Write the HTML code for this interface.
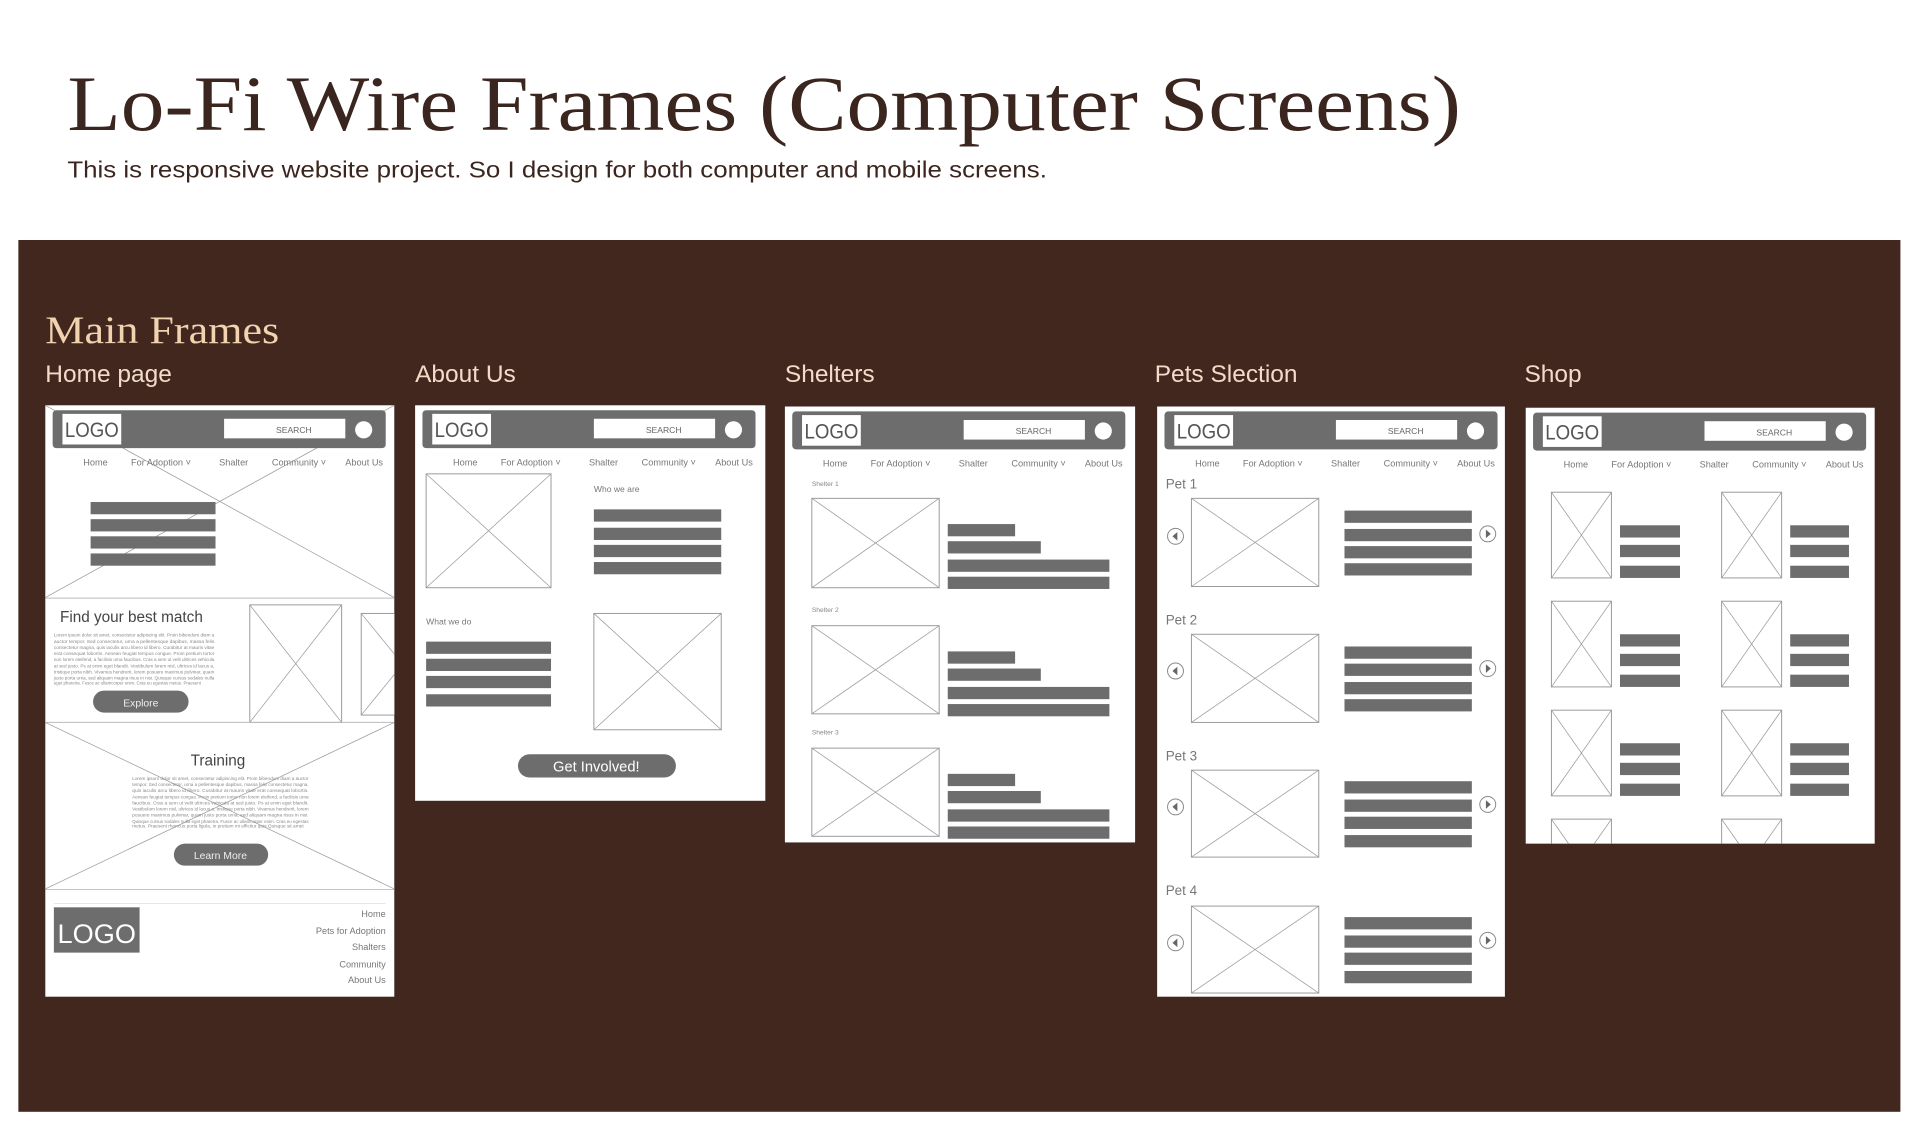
<!DOCTYPE html>
<html><head><meta charset="utf-8"><style>
html,body{margin:0;padding:0;background:#fff;}
svg{display:block;}
.s{font-family:"Liberation Sans",sans-serif;}
.nav{font-family:"Liberation Sans",sans-serif;font-size:7.5px;fill:#777;}
.bar{fill:#6d6d6d;}
.img{fill:#fff;stroke:#999;stroke-width:0.8;}
.x{stroke:#999;stroke-width:0.6;}
.lorem{font-family:"Liberation Sans",sans-serif;font-size:3.6px;fill:#888;}
</style></head><body>
<svg width="1920" height="1144" viewBox="0 0 1568 934.3" preserveAspectRatio="none" xmlns="http://www.w3.org/2000/svg">
<defs>
<clipPath id="hc"><rect x="37" y="331" width="285" height="483"/></clipPath>
<g id="hdr">
<rect x="6" y="4" width="272" height="31" rx="3" fill="#6d6d6d"/>
<rect x="14" y="7" width="48" height="25" fill="#fff"/>
<text x="16" y="26" class="s" font-size="17" fill="#555" textLength="44" lengthAdjust="spacingAndGlyphs">LOGO</text>
<rect x="146" y="11" width="99" height="16" fill="#fff"/>
<text x="203" y="22.5" class="s" font-size="7" text-anchor="middle" fill="#666">SEARCH</text>
<circle cx="260" cy="20" r="7" fill="#fff"/>
<text x="31" y="49" class="nav">Home</text>
<text x="70" y="49" class="nav">For Adoption ˅</text>
<text x="142" y="49" class="nav">Shalter</text>
<text x="185" y="49" class="nav">Community ˅</text>
<text x="245" y="49" class="nav">About Us</text>
</g>
</defs>

<rect width="1568" height="934.3" fill="#fff"/>
<text x="55" y="106" font-family="Liberation Serif,serif" font-size="64" fill="#3b251f" textLength="1138" lengthAdjust="spacingAndGlyphs">Lo-Fi Wire Frames (Computer Screens)</text>
<text x="55" y="145" class="s" font-size="19" fill="#3b251f" textLength="800" lengthAdjust="spacingAndGlyphs">This is responsive website project. So I design for both computer and mobile screens.</text>

<rect x="15" y="196" width="1537" height="712" fill="#42271f"/>
<text x="37" y="280" font-family="Liberation Serif,serif" font-size="32" fill="#f2d3b0" textLength="191" lengthAdjust="spacingAndGlyphs">Main Frames</text>
<g class="s" font-size="20" fill="#f2dcc8">
<text x="37" y="312">Home page</text>
<text x="339" y="312">About Us</text>
<text x="641" y="312">Shelters</text>
<text x="943" y="312">Pets Slection</text>
<text x="1245" y="312">Shop</text>
</g>

<!-- HOME -->
<rect x="37" y="331" width="285" height="483" fill="#fff"/>
<line x1="37" y1="331" x2="322" y2="488" class="x"/><line x1="322" y1="331" x2="37" y2="488" class="x"/>
<use href="#hdr" x="37" y="331"/>
<rect x="74" y="410" width="102" height="10" class="bar"/>
<rect x="74" y="424" width="102" height="10" class="bar"/>
<rect x="74" y="438" width="102" height="10" class="bar"/>
<rect x="74" y="452" width="102" height="10" class="bar"/>
<line x1="37" y1="488.5" x2="322" y2="488.5" stroke="#bbb" stroke-width="0.8"/>
<text x="49" y="508" class="s" font-size="12.5" fill="#444">Find your best match</text>
<g class="lorem">
<text x="44" y="520" textLength="131" lengthAdjust="spacingAndGlyphs">Lorem ipsum dolor sit amet, consectetur adipiscing elit. Proin bibendum diam a</text>
<text x="44" y="525" textLength="131" lengthAdjust="spacingAndGlyphs">auctor tempor. Sed consectetur, urna a pellentesque dapibus, massa felis</text>
<text x="44" y="530" textLength="131" lengthAdjust="spacingAndGlyphs">consectetur magna, quis iaculis arcu libero id libero. Curabitur at mauris vitae</text>
<text x="44" y="535" textLength="131" lengthAdjust="spacingAndGlyphs">erat consequat lobortis. Aenean feugiat tempus congue. Proin pretium tortor</text>
<text x="44" y="540" textLength="131" lengthAdjust="spacingAndGlyphs">non lorem eleifend, a facilisis urna faucibus. Cras a sem ut velit ultrices vehicula</text>
<text x="44" y="545" textLength="131" lengthAdjust="spacingAndGlyphs">at sed justo. Ps at enim eget blandit. Vestibulum lorem nisl, ultrices id lacus a,</text>
<text x="44" y="550" textLength="131" lengthAdjust="spacingAndGlyphs">tristique porta nibh. Vivamus hendrerit, lorem posuere maximus pulvinar, quam</text>
<text x="44" y="555" textLength="131" lengthAdjust="spacingAndGlyphs">justo porta urna, sed aliquam magna risus in nisi. Quisque cursus sodales nulla</text>
<text x="44" y="559" textLength="120" lengthAdjust="spacingAndGlyphs">eget pharetra. Fusce ac ullamcorper enim. Cras eu egestas metus. Praesent</text>
</g>
<rect x="76" y="564" width="78" height="18" rx="9" class="bar"/>
<text x="115" y="577" class="s" font-size="8.5" fill="#eee" text-anchor="middle">Explore</text>
<rect x="204" y="494" width="75" height="96" class="img"/><line x1="204" y1="494" x2="279" y2="590" class="x"/><line x1="279" y1="494" x2="204" y2="590" class="x"/>
<g clip-path="url(#hc)">
<rect x="295" y="501" width="40" height="83" class="img"/><line x1="295" y1="501" x2="335" y2="550" class="x"/><line x1="335" y1="535" x2="295" y2="584" class="x"/>
</g>
<line x1="37" y1="590" x2="322" y2="590" stroke="#bbb" stroke-width="0.8"/>
<line x1="37" y1="590" x2="322" y2="726" class="x"/><line x1="322" y1="590" x2="37" y2="726" class="x"/>
<text x="178" y="625" class="s" font-size="12.5" fill="#444" text-anchor="middle">Training</text>
<g class="lorem">
<text x="108" y="637" textLength="144" lengthAdjust="spacingAndGlyphs">Lorem ipsum dolor sit amet, consectetur adipiscing elit. Proin bibendum diam a auctor</text>
<text x="108" y="642" textLength="144" lengthAdjust="spacingAndGlyphs">tempor. Sed consectetur, urna a pellentesque dapibus, massa felis consectetur magna,</text>
<text x="108" y="647" textLength="144" lengthAdjust="spacingAndGlyphs">quis iaculis arcu libero id libero. Curabitur at mauris vitae erat consequat lobortis.</text>
<text x="108" y="652" textLength="144" lengthAdjust="spacingAndGlyphs">Aenean feugiat tempus congue. Proin pretium tortor non lorem eleifend, a facilisis urna</text>
<text x="108" y="657" textLength="144" lengthAdjust="spacingAndGlyphs">faucibus. Cras a sem ut velit ultrices vehicula at sed justo. Ps at enim eget blandit.</text>
<text x="108" y="662" textLength="144" lengthAdjust="spacingAndGlyphs">Vestibulum lorem nisl, ultrices id lacus a, tristique porta nibh. Vivamus hendrerit, lorem</text>
<text x="108" y="667" textLength="144" lengthAdjust="spacingAndGlyphs">posuere maximus pulvinar, quam justo porta urna, sed aliquam magna risus in nisi.</text>
<text x="108" y="672" textLength="144" lengthAdjust="spacingAndGlyphs">Quisque cursus sodales nulla eget pharetra. Fusce ac ullamcorper enim. Cras eu egestas</text>
<text x="108" y="676" textLength="140" lengthAdjust="spacingAndGlyphs">metus. Praesent rhoncus porta ligula, in pretium mi efficitur quis Quisque sit amet</text>
</g>
<rect x="142" y="689" width="77" height="18" rx="9" class="bar"/>
<text x="180" y="701.5" class="s" font-size="8.5" fill="#eee" text-anchor="middle">Learn More</text>
<line x1="37" y1="726.5" x2="322" y2="726.5" stroke="#bbb" stroke-width="0.8"/>
<line x1="44" y1="738" x2="315" y2="738" stroke="#ddd" stroke-width="0.6"/>
<rect x="44" y="741" width="70" height="37" class="bar"/>
<text x="47" y="770" class="s" font-size="22" fill="#fff" textLength="64" lengthAdjust="spacingAndGlyphs">LOGO</text>
<g class="s" font-size="7.5" fill="#777" text-anchor="end">
<text x="315" y="749">Home</text>
<text x="315" y="763">Pets for Adoption</text>
<text x="315" y="776">Shalters</text>
<text x="315" y="790">Community</text>
<text x="315" y="803">About Us</text>
</g>

<!-- ABOUT -->
<rect x="339" y="331" width="286" height="323" fill="#fff"/>
<use href="#hdr" x="339" y="331"/>
<rect x="348" y="387" width="102" height="93" class="img"/><line x1="348" y1="387" x2="450" y2="480" class="x"/><line x1="450" y1="387" x2="348" y2="480" class="x"/>
<text x="485" y="402" class="s" font-size="7" fill="#777">Who we are</text>
<rect x="485" y="416" width="104" height="10" class="bar"/>
<rect x="485" y="431" width="104" height="10" class="bar"/>
<rect x="485" y="445" width="104" height="10" class="bar"/>
<rect x="485" y="459" width="104" height="10" class="bar"/>
<text x="348" y="510" class="s" font-size="7" fill="#777">What we do</text>
<rect x="348" y="524" width="102" height="10" class="bar"/>
<rect x="348" y="538" width="102" height="10" class="bar"/>
<rect x="348" y="552" width="102" height="10" class="bar"/>
<rect x="348" y="567" width="102" height="10" class="bar"/>
<rect x="485" y="501" width="104" height="95" class="img"/><line x1="485" y1="501" x2="589" y2="596" class="x"/><line x1="589" y1="501" x2="485" y2="596" class="x"/>
<rect x="423" y="616" width="129" height="19" rx="9.5" class="bar"/>
<text x="487" y="630" class="s" font-size="12" fill="#fff" text-anchor="middle">Get Involved!</text>

<!-- SHELTERS -->
<rect x="641" y="332" width="286" height="356" fill="#fff"/>
<use href="#hdr" x="641" y="332"/>
<g class="s" font-size="5.5" fill="#888">
<text x="663" y="397">Shelter 1</text><text x="663" y="500">Shelter 2</text><text x="663" y="600">Shelter 3</text>
</g>
<g>
<rect x="663" y="407" width="104" height="73" class="img"/><line x1="663" y1="407" x2="767" y2="480" class="x"/><line x1="767" y1="407" x2="663" y2="480" class="x"/>
<rect x="774" y="428" width="55" height="10" class="bar"/><rect x="774" y="442" width="76" height="10" class="bar"/><rect x="774" y="457" width="132" height="10" class="bar"/><rect x="774" y="471" width="132" height="10" class="bar"/>
<rect x="663" y="511" width="104" height="72" class="img"/><line x1="663" y1="511" x2="767" y2="583" class="x"/><line x1="767" y1="511" x2="663" y2="583" class="x"/>
<rect x="774" y="532" width="55" height="10" class="bar"/><rect x="774" y="546" width="76" height="10" class="bar"/><rect x="774" y="561" width="132" height="10" class="bar"/><rect x="774" y="575" width="132" height="10" class="bar"/>
<rect x="663" y="611" width="104" height="72" class="img"/><line x1="663" y1="611" x2="767" y2="683" class="x"/><line x1="767" y1="611" x2="663" y2="683" class="x"/>
<rect x="774" y="632" width="55" height="10" class="bar"/><rect x="774" y="646" width="76" height="10" class="bar"/><rect x="774" y="661" width="132" height="10" class="bar"/><rect x="774" y="675" width="132" height="10" class="bar"/>
</g>

<!-- PETS -->
<rect x="945" y="332" width="284" height="482" fill="#fff"/>
<use href="#hdr" x="945" y="332"/>
<g class="s" font-size="11" fill="#777">
<text x="952" y="399">Pet 1</text><text x="952" y="510">Pet 2</text><text x="952" y="621">Pet 3</text><text x="952" y="731">Pet 4</text>
</g>
<g>
<rect x="973" y="407" width="104" height="72" class="img"/><line x1="973" y1="407" x2="1077" y2="479" class="x"/><line x1="1077" y1="407" x2="973" y2="479" class="x"/>
<rect x="1098" y="417" width="104" height="10" class="bar"/><rect x="1098" y="432" width="104" height="10" class="bar"/><rect x="1098" y="446" width="104" height="10" class="bar"/><rect x="1098" y="460" width="104" height="10" class="bar"/>
<rect x="973" y="518" width="104" height="72" class="img"/><line x1="973" y1="518" x2="1077" y2="590" class="x"/><line x1="1077" y1="518" x2="973" y2="590" class="x"/>
<rect x="1098" y="528" width="104" height="10" class="bar"/><rect x="1098" y="542" width="104" height="10" class="bar"/><rect x="1098" y="557" width="104" height="10" class="bar"/><rect x="1098" y="571" width="104" height="10" class="bar"/>
<rect x="973" y="629" width="104" height="71" class="img"/><line x1="973" y1="629" x2="1077" y2="700" class="x"/><line x1="1077" y1="629" x2="973" y2="700" class="x"/>
<rect x="1098" y="638" width="104" height="10" class="bar"/><rect x="1098" y="653" width="104" height="10" class="bar"/><rect x="1098" y="667" width="104" height="10" class="bar"/><rect x="1098" y="682" width="104" height="10" class="bar"/>
<rect x="973" y="740" width="104" height="71" class="img"/><line x1="973" y1="740" x2="1077" y2="811" class="x"/><line x1="1077" y1="740" x2="973" y2="811" class="x"/>
<rect x="1098" y="749" width="104" height="10" class="bar"/><rect x="1098" y="764" width="104" height="10" class="bar"/><rect x="1098" y="778" width="104" height="10" class="bar"/><rect x="1098" y="793" width="104" height="10" class="bar"/>
</g>
<g fill="#fff" stroke="#888" stroke-width="0.8">
<circle cx="960" cy="438" r="6.5"/><circle cx="1215" cy="436" r="6.5"/>
<circle cx="960" cy="548" r="6.5"/><circle cx="1215" cy="546" r="6.5"/>
<circle cx="960" cy="659" r="6.5"/><circle cx="1215" cy="657" r="6.5"/>
<circle cx="960" cy="770" r="6.5"/><circle cx="1215" cy="768" r="6.5"/>
</g>
<g fill="#666">
<path d="M957.5 438 l4 -3.5 v7z"/><path d="M1217.5 436 l-4 -3.5 v7z"/>
<path d="M957.5 548 l4 -3.5 v7z"/><path d="M1217.5 546 l-4 -3.5 v7z"/>
<path d="M957.5 659 l4 -3.5 v7z"/><path d="M1217.5 657 l-4 -3.5 v7z"/>
<path d="M957.5 770 l4 -3.5 v7z"/><path d="M1217.5 768 l-4 -3.5 v7z"/>
</g>

<!-- SHOP -->
<rect x="1246" y="333" width="285" height="356" fill="#fff"/>
<use href="#hdr" x="1246" y="333"/>
<g>
<rect x="1267" y="402" width="49" height="70" class="img"/><line x1="1267" y1="402" x2="1316" y2="472" class="x"/><line x1="1316" y1="402" x2="1267" y2="472" class="x"/>
<rect x="1406" y="402" width="49" height="70" class="img"/><line x1="1406" y1="402" x2="1455" y2="472" class="x"/><line x1="1455" y1="402" x2="1406" y2="472" class="x"/>
<rect x="1323" y="429" width="49" height="10" class="bar"/><rect x="1323" y="445" width="49" height="10" class="bar"/><rect x="1323" y="462" width="49" height="10" class="bar"/>
<rect x="1462" y="429" width="48" height="10" class="bar"/><rect x="1462" y="445" width="48" height="10" class="bar"/><rect x="1462" y="462" width="48" height="10" class="bar"/>

<rect x="1267" y="491" width="49" height="70" class="img"/><line x1="1267" y1="491" x2="1316" y2="561" class="x"/><line x1="1316" y1="491" x2="1267" y2="561" class="x"/>
<rect x="1406" y="491" width="49" height="70" class="img"/><line x1="1406" y1="491" x2="1455" y2="561" class="x"/><line x1="1455" y1="491" x2="1406" y2="561" class="x"/>
<rect x="1323" y="518" width="49" height="10" class="bar"/><rect x="1323" y="534" width="49" height="10" class="bar"/><rect x="1323" y="551" width="49" height="10" class="bar"/>
<rect x="1462" y="518" width="48" height="10" class="bar"/><rect x="1462" y="534" width="48" height="10" class="bar"/><rect x="1462" y="551" width="48" height="10" class="bar"/>

<rect x="1267" y="580" width="49" height="70" class="img"/><line x1="1267" y1="580" x2="1316" y2="650" class="x"/><line x1="1316" y1="580" x2="1267" y2="650" class="x"/>
<rect x="1406" y="580" width="49" height="70" class="img"/><line x1="1406" y1="580" x2="1455" y2="650" class="x"/><line x1="1455" y1="580" x2="1406" y2="650" class="x"/>
<rect x="1323" y="607" width="49" height="10" class="bar"/><rect x="1323" y="623" width="49" height="10" class="bar"/><rect x="1323" y="640" width="49" height="10" class="bar"/>
<rect x="1462" y="607" width="48" height="10" class="bar"/><rect x="1462" y="623" width="48" height="10" class="bar"/><rect x="1462" y="640" width="48" height="10" class="bar"/>

<path d="M1267 689 V669 H1316 V689" fill="none" stroke="#999" stroke-width="0.8"/><line x1="1267" y1="669" x2="1281" y2="689" class="x"/><line x1="1316" y1="669" x2="1302" y2="689" class="x"/>
<path d="M1406 689 V669 H1455 V689" fill="none" stroke="#999" stroke-width="0.8"/><line x1="1406" y1="669" x2="1420" y2="689" class="x"/><line x1="1455" y1="669" x2="1441" y2="689" class="x"/>
</g>
</svg>
</body></html>
